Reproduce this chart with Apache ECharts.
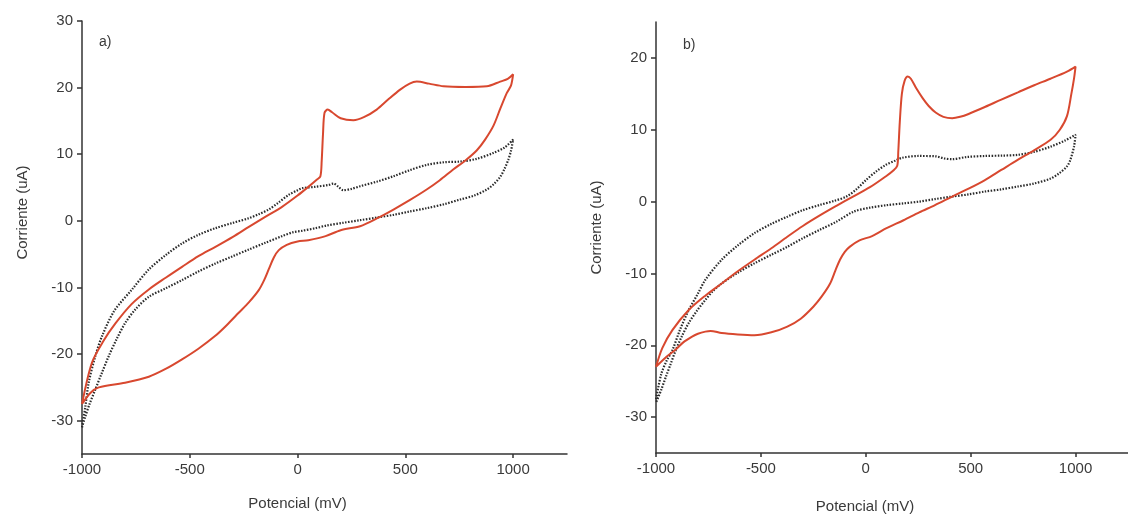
<!DOCTYPE html>
<html>
<head>
<meta charset="utf-8">
<title>Voltametria</title>
<script src="https://cdn.jsdelivr.net/npm/echarts@6.0.0/dist/echarts.min.js"></script>
<style>
  html, body { margin: 0; padding: 0; background: #fff; }
  #main { width: 1128px; height: 521px; }
</style>
</head>
<body>
<div id="main"></div>
<script>
// eje x (mV) y etiquetas
const potTicks = [-1000, -500, 0, 500, 1000]
const corrTicksA = [-30, -20, -10, 0, 10, 20, 30]
const corrTicksB = [-30, -20, -10, 0, 10, 20]

// a) curva roja
const redA_x = [-1000, -954, -900, -845, -770, -690, -610, -536, -460, -381, -300, -226, -150, -72, 0, 50, 90, 106, 112, 118, 125, 140, 160, 200, 259, 310, 367, 420, 476, 520, 553, 610, 677, 780, 878, 940, 975, 1000,
  990, 971, 940, 909, 870, 832, 780, 722, 660, 599, 520, 445, 370, 290, 200, 130, 50, 0, -50, -87, -110, -134, -155, -180, -225, -273, -330, -383, -460, -536, -610, -690, -800, -922, -960, -1000]
const redA_y = [-27.5, -21.3, -18, -15.4, -12.5, -10.3, -8.5, -6.9, -5.3, -3.9, -2.4, -0.9, 0.6, 2.1, 3.8, 5.1, 6.2, 6.7, 9, 13, 16.2, 16.7, 16.3, 15.4, 15.1, 15.6, 16.7, 18.2, 19.7, 20.6, 20.9, 20.6, 20.2, 20.1, 20.2, 20.9, 21.3, 22,
  20.3, 19.2, 16.8, 14.3, 12.2, 10.6, 9.1, 7.7, 6.1, 4.7, 3.1, 1.7, 0.4, -0.8, -1.4, -2.3, -2.9, -3.1, -3.6, -4.4, -5.5, -7.3, -8.9, -10.4, -12.2, -13.8, -15.7, -17.3, -19.2, -20.8, -22.2, -23.4, -24.3, -25.0, -25.8, -27.5]

// a) curva punteada
const dotA_x = [-1000, -985, -969, -940, -907, -850, -768, -690, -610, -536, -460, -381, -300, -226, -180, -134, -90, -41, 0, 21, 80, 145, 166, 190, 212, 250, 290, 370, 445, 520, 599, 680, 754, 830, 909, 960, 1000,
  990, 978, 960, 940, 910, 878, 820, 754, 680, 599, 520, 445, 370, 290, 210, 135, 83, 20, -20, -72, -150, -226, -300, -381, -460, -536, -610, -690, -750, -799, -840, -876, -910, -938, -965, -985, -1000]
const dotA_y = [-31, -28, -24.3, -20.5, -17.3, -13.5, -10.3, -7.3, -5.1, -3.4, -2.1, -1.1, -0.3, 0.4, 1, 1.7, 2.7, 3.9, 4.6, 4.9, 5.1, 5.4, 5.6, 5.1, 4.6, 4.8, 5.2, 5.9, 6.7, 7.6, 8.4, 8.8, 8.9, 9.3, 10.2, 11, 12.2,
  10.5, 9.2, 7.8, 6.6, 5.5, 4.7, 3.8, 3.2, 2.5, 1.9, 1.4, 0.9, 0.5, 0.1, -0.3, -0.7, -1.1, -1.5, -1.7, -2.3, -3.3, -4.3, -5.3, -6.4, -7.6, -8.9, -10.1, -11.4, -13.2, -15.3, -17.8, -20.3, -23, -25.3, -27.5, -29.4, -31]

// b) curva roja
const redB_x = [-1000, -970, -922, -844, -765, -687, -610, -531, -450, -374, -300, -217, -140, -61, 20, 95, 130, 150, 155, 162, 172, 185, 200, 215, 240, 271, 300, 333, 370, 412, 450, 490, 570, 646, 725, 803, 880, 959, 1000,
  993, 980, 959, 925, 881, 800, 724, 646, 568, 490, 412, 330, 255, 180, 99, 30, -30, -77, -100, -123, -145, -170, -210, -249, -310, -374, -450, -531, -610, -687, -740, -765, -800, -828, -870, -906, -950, -1000]
const redB_y = [-23, -20.4, -17.9, -15.1, -13.1, -11.4, -9.7, -8.1, -6.5, -4.9, -3.4, -1.9, -0.6, 0.7, 2.0, 3.5, 4.3, 5.0, 7, 11, 15, 16.8, 17.4, 17.1, 15.8, 14.4, 13.3, 12.4, 11.8, 11.6, 11.8, 12.2, 13.2, 14.2, 15.2, 16.2, 17.1, 18.1, 18.8,
  17.2, 15, 11.9, 10, 8.6, 7.1, 5.8, 4.4, 3.0, 1.8, 0.7, -0.5, -1.5, -2.6, -3.7, -4.8, -5.4, -6.3, -7, -8.1, -9.6, -11.4, -13.2, -14.6, -16.3, -17.4, -18.2, -18.6, -18.5, -18.3, -18.0, -18.1, -18.4, -18.8, -19.6, -20.6, -21.6, -23]

// b) curva punteada
const dotB_x = [-1000, -975, -950, -922, -885, -844, -800, -765, -687, -610, -531, -450, -374, -300, -217, -150, -92, -45, 1, 50, 95, 140, 174, 250, 333, 375, 412, 480, 568, 650, 724, 800, 881, 950, 1000,
  993, 975, 959, 920, 881, 800, 724, 646, 568, 490, 412, 330, 255, 180, 99, 20, -58, -140, -217, -300, -374, -450, -531, -610, -687, -730, -765, -805, -844, -876, -906, -930, -953, -975, -1000]
const dotB_y = [-27.5, -24, -22.2, -20.7, -17.8, -15.1, -12.8, -10.9, -8.1, -6.1, -4.4, -3.1, -2.1, -1.2, -0.45, 0.1, 0.7, 1.7, 3.0, 4.2, 5.1, 5.7, 6.1, 6.35, 6.3, 6.0, 5.9, 6.2, 6.35, 6.4, 6.5, 6.9, 7.65, 8.5, 9.3,
  7.7, 5.8, 4.9, 3.9, 3.2, 2.5, 2.1, 1.7, 1.4, 1.0, 0.7, 0.35, 0, -0.25, -0.5, -0.85, -1.4, -2.8, -3.9, -5.1, -6.3, -7.4, -8.6, -9.9, -11.4, -12.5, -13.7, -15.2, -16.9, -18.7, -20.7, -22.6, -24.4, -26.2, -28]

const zip = (xs, ys) => xs.map((v, i) => [v, ys[i]])

const textColor = '#3a3a3a'
const axisColor = '#333'
const font = 'Liberation Sans, Arial, sans-serif'
// sin separador de miles
const plain = v => String(v)

function xAxisCfg(gridIndex) {
  return {
    gridIndex: gridIndex,
    type: 'value',
    min: -1000,
    max: 1250,
    name: 'Potencial (mV)',
    nameLocation: 'middle',
    nameGap: gridIndex === 0 ? 42 : 46,
    nameTextStyle: { color: textColor, fontSize: 15, fontFamily: font, padding: [0, 54, 0, 0] },
    axisLine: { show: true, onZero: false, lineStyle: { color: axisColor, width: 1.5 } },
    axisTick: { show: true, length: 4, customValues: potTicks, lineStyle: { color: axisColor, width: 1.5 } },
    axisLabel: { customValues: potTicks, formatter: plain, color: textColor, fontSize: 15, fontFamily: font, margin: 8 },
    splitLine: { show: false }
  }
}

function yAxisCfg(gridIndex, min, max, ticks, shift) {
  return {
    gridIndex: gridIndex,
    type: 'value',
    min: min,
    max: max,
    name: 'Corriente (uA)',
    nameLocation: 'middle',
    nameGap: 52,
    nameTextStyle: { color: textColor, fontSize: 15, fontFamily: font, padding: [0, 0, 0, shift] },
    axisLine: { show: true, onZero: false, lineStyle: { color: axisColor, width: 1.5 } },
    axisTick: { show: true, length: 5, customValues: ticks, lineStyle: { color: axisColor, width: 1.5 } },
    axisLabel: { customValues: ticks, formatter: plain, color: textColor, fontSize: 15, fontFamily: font, margin: 9 },
    splitLine: { show: false }
  }
}

function lineSeries(data, xi, dotted) {
  return {
    type: 'line',
    xAxisIndex: xi,
    yAxisIndex: xi,
    data: data,
    showSymbol: false,
    smooth: 0.3,
    lineStyle: dotted
      ? { color: '#2b2b2b', width: 2.2, type: [1.5, 1.5] }
      : { color: '#d8482f', width: 2 },
    z: dotted ? 2 : 3
  }
}

var myChart = echarts.init(document.getElementById('main'))
var option = {
  animation: false,
  backgroundColor: '#fff',
  title: [
    { text: 'a)', left: 94, top: 30, textStyle: { fontSize: 14, fontWeight: 'normal', color: textColor, fontFamily: font } },
    { text: 'b)', left: 678, top: 33, textStyle: { fontSize: 14, fontWeight: 'normal', color: textColor, fontFamily: font } }
  ],
  grid: [
    { left: 82, top: 21, width: 485, height: 433 },
    { left: 656, top: 22, width: 479, height: 431 }
  ],
  xAxis: [xAxisCfg(0), xAxisCfg(1)],
  yAxis: [
    yAxisCfg(0, -35, 30, corrTicksA, 50),
    yAxisCfg(1, -35, 25, corrTicksB, 20)
  ],
  series: [
    lineSeries(zip(dotA_x, dotA_y), 0, true),
    lineSeries(zip(redA_x, redA_y), 0, false),
    lineSeries(zip(dotB_x, dotB_y), 1, true),
    lineSeries(zip(redB_x, redB_y), 1, false)
  ]
}
myChart.setOption(option)
</script>
</body>
</html>
